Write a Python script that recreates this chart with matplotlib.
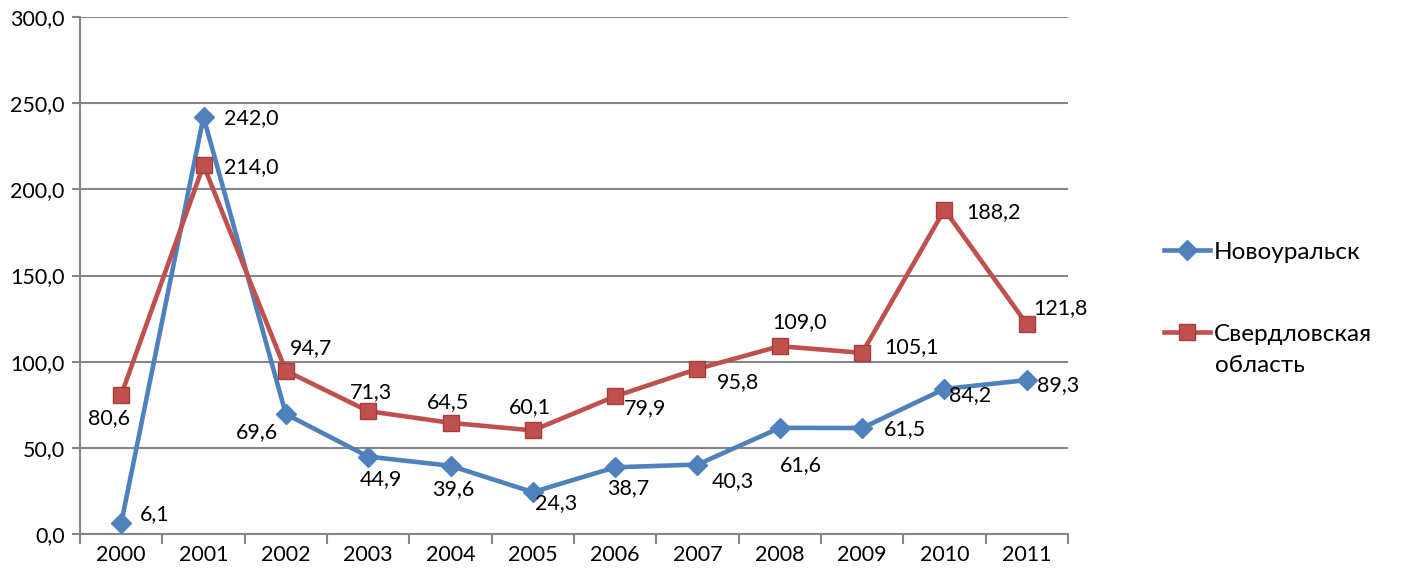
import matplotlib
matplotlib.use("Agg")
import matplotlib.pyplot as plt
from matplotlib.lines import Line2D
import numpy as np

plt.rcParams['font.family'] = ['Lato', 'DejaVu Sans']

years = ['2000', '2001', '2002', '2003', '2004', '2005', '2006', '2007', '2008', '2009', '2010', '2011']
novouralsk = [6.1, 242.0, 69.6, 44.9, 39.6, 24.3, 38.7, 40.3, 61.6, 61.5, 84.2, 89.3]
sverdlovsk = [80.6, 214.0, 94.7, 71.3, 64.5, 60.1, 79.9, 95.8, 109.0, 105.1, 188.2, 121.8]
series_names = ['Новоуральск', 'Свердловская', 'область']

# label centre offsets from the point, in pixels (dx right, dy down)
blue_off = [(34, -9), (48, 1), (-29, 18), (13, 22), (3, 23), (23, 11),
            (13, 21), (35, 17), (21, 37), (43, 1), (26, 6), (31, 5)]
red_off = [(-12, 23), (48, 2), (25, -23), (3, -19), (-2, -21), (-3, -23),
           (30, 12), (41, 13), (20, -24), (49, -6), (49, 2), (34, -16)]

BLUE = '#4F81BD'
RED = '#C0504D'
GRID = '#868686'
FS = 15.5
LFS = 17.5

W, H = 1419, 584
fig = plt.figure(figsize=(W / 100, H / 100), dpi=100)
ax = fig.add_axes([80 / W, 1 - 534 / H, (1068 - 80) / W, (534 - 17) / H])

x = np.arange(len(years))
ax.plot(x, novouralsk, color=BLUE, lw=3.3, marker='D', markersize=10,
        markerfacecolor=BLUE, markeredgecolor=BLUE, zorder=3)
ax.plot(x, sverdlovsk, color=RED, lw=3.3, marker='s', markersize=12,
        markerfacecolor=RED, markeredgecolor='#A53E3B', markeredgewidth=1.0, zorder=4)

def fmt(v):
    return f"{v:.1f}".replace('.', ',')

for xi, v, (dx, dy) in zip(x, novouralsk, blue_off):
    ax.annotate(fmt(v), (xi, v), xytext=(dx * 0.72, -dy * 0.72), textcoords='offset points',
                ha='center', va='center', fontsize=FS, color='black', zorder=5)
for xi, v, (dx, dy) in zip(x, sverdlovsk, red_off):
    ax.annotate(fmt(v), (xi, v), xytext=(dx * 0.72, -dy * 0.72), textcoords='offset points',
                ha='center', va='center', fontsize=FS, color='black', zorder=5)

ax.set_xlim(-0.5, len(years) - 0.5)
ax.set_ylim(0, 300)
ax.set_yticks(np.arange(0, 301, 50))
ax.set_yticklabels([fmt(v) for v in np.arange(0, 301, 50)], fontsize=FS)
ax.set_xticks(x)
ax.set_xticklabels(years, fontsize=FS)
ax.set_xticks(np.arange(-0.5, len(years), 1.0), minor=True)
ax.tick_params(axis='x', which='major', length=0, pad=8)
ax.tick_params(axis='x', which='minor', length=7, width=1.5, color=GRID)
ax.tick_params(axis='y', which='major', length=6, width=1.5, color=GRID, pad=5)

ax.yaxis.grid(True, color=GRID, lw=1.5)
ax.set_axisbelow(True)
for s in ['top', 'right']:
    ax.spines[s].set_visible(False)
for s in ['left', 'bottom']:
    ax.spines[s].set_color(GRID)
    ax.spines[s].set_linewidth(1.5)

handles = [
    Line2D([], [], color=BLUE, lw=3.3, marker='D', markersize=10, markerfacecolor=BLUE, markeredgecolor=BLUE),
    Line2D([], [], color=RED, lw=3.3, marker='s', markersize=12, markerfacecolor=RED,
           markeredgecolor='#A53E3B', markeredgewidth=1.0),
]
leg = fig.legend(handles, series_names[:2], loc='upper left', bbox_to_anchor=(1154 / W, 1 - 232 / H),
                 frameon=False, fontsize=LFS, handlelength=1.9, handletextpad=0.15,
                 labelspacing=2.5, borderaxespad=0)
fig.text(1215 / W, 1 - 366 / H, series_names[2], fontsize=LFS, ha='left', va='center')

fig.savefig('out.png', dpi=100)
